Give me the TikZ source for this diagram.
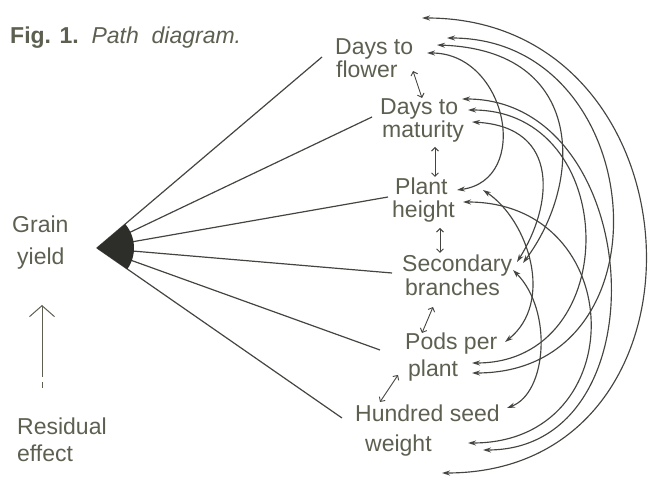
\documentclass[tikz,border=0pt]{standalone}
\usepackage{fontspec}
\setmainfont{Liberation Sans}
\usetikzlibrary{arrows.meta}
\definecolor{txt}{RGB}{92,96,80}
\definecolor{ln}{RGB}{68,68,64}
\definecolor{fanfill}{RGB}{45,45,42}
\begin{document}
\begin{tikzpicture}[x=1pt,y=-1pt,
  lbl/.style={anchor=base west, inner sep=0pt, text=txt, font=\fontsize{23}{27}\selectfont},
  fanline/.style={draw=ln, line width=1.2pt},
  curvearrow/.style={draw=ln, line width=1.15pt, {Stealth[length=8pt,width=5pt]}-{Stealth[length=8pt,width=5pt]}},
  adjarrow/.style={draw=ln, line width=0.9pt, {Straight Barb[length=3.5pt,width=7pt]}-{Straight Barb[length=3.5pt,width=7pt]}},
]
\useasboundingbox (0,0) rectangle (649,478);

% title
\node[lbl] (title) at (10,44) {\textbf{Fig. 1.}\ \ \textit{Path\ \ diagram.}};

% labels
\node[lbl] (dfA) at (335,55) {Days to};
\node[lbl] (dfB) at (336,78) {flower};
\node[lbl] (dmA) at (380,115) {Days to};
\node[lbl] (dmB) at (382,138) {maturity};
\node[lbl] (phA) at (395,195) {Plant};
\node[lbl] (phB) at (392,218) {height};
\node[lbl] (sbA) at (402,272) {Secondary};
\node[lbl] (sbB) at (405,296) {branches};
\node[lbl] (ppA) at (405,350) {Pods per};
\node[lbl] (ppB) at (408,377) {plant};
\node[lbl] (hsA) at (355,422) {Hundred seed};
\node[lbl] (hsB) at (365,452) {weight};
\node[lbl] (gyA) at (12,233) {Grain};
\node[lbl] (gyB) at (17,265) {yield};
\node[lbl] (reA) at (17,435) {Residual};
\node[lbl] (reB) at (17,462) {effect};

% fan
\coordinate (v) at (97,248);
\coordinate (fDF) at (322,57);
\coordinate (fDM) at (372,117);
\coordinate (fPH) at (388,197);
\coordinate (fSB) at (392,273);
\coordinate (fPP) at (380,350);
\coordinate (fHS) at (342,418);
\foreach \p in {fDF,fDM,fPH,fSB,fPP,fHS} \draw[fanline] (v) -- (\p);
\fill[fanfill] (v) -- ++(-40.3:37) arc[start angle=-40.3, end angle=34.8, radius=37] -- cycle;

% residual
\coordinate (resB) at (42,377);
\coordinate (resT) at (42,305);
\draw[txt, line width=1pt, -{Straight Barb[length=11pt,width=25pt]}] (resB) -- (resT);
\draw[txt, line width=1pt] (42,382) -- (42,388);

% adjacent arrows
\draw[adjarrow] (413,71) -- (422,98);
\draw[adjarrow] (435,147) -- (435,177);
\draw[adjarrow] (440,228) -- (440,253);
\draw[adjarrow] (433,307) -- (422,333);
\draw[adjarrow] (398,375) -- (380,402);

% arc endpoints
\coordinate (DF1) at (422,18);
\coordinate (DF2) at (447,38);
\coordinate (DF3) at (437,45);
\coordinate (DF4) at (427,53);
\coordinate (DM1) at (462,99);
\coordinate (DM2) at (468,110);
\coordinate (DM3) at (472,122);
\coordinate (PH1) at (457,190);
\coordinate (PH2) at (483,190);
\coordinate (PH3) at (463,202);
\coordinate (SB1) at (517,262);
\coordinate (SB2) at (523,263);
\coordinate (SB3) at (513,270);
\coordinate (PP1) at (505,342);
\coordinate (PP2) at (472,363);
\coordinate (PP3) at (472,373);
\coordinate (HS1) at (507,408);
\coordinate (HS2) at (468,443);
\coordinate (HS3) at (483,450);
\coordinate (HS4) at (442,473);

\draw[curvearrow] (DF4) .. controls +(80,0) and +(75,-10) .. (PH1);
\draw[curvearrow] (DF3) .. controls +(150,5) and +(60,-80) .. (SB2);
\draw[curvearrow] (DF2) .. controls +(203,0) and +(203,0) .. (PP3);
\draw[curvearrow] (DF1) .. controls +(284,0) and +(284,0) .. (HS4);
\draw[curvearrow] (DM3) .. controls +(90,5) and +(35,-55) .. (SB1);
\draw[curvearrow] (DM2) .. controls +(153,0) and +(153,0) .. (PP2);
\draw[curvearrow] (DM1) .. controls +(183,0) and +(183,0) .. (HS3);
\draw[curvearrow] (PH2) .. controls +(45,30) and +(50,-40) .. (PP1);
\draw[curvearrow] (PH3) .. controls +(166,0) and +(166,0) .. (HS2);
\draw[curvearrow] (SB3) .. controls +(40,40) and +(40,-15) .. (HS1);
\end{tikzpicture}
\end{document}
